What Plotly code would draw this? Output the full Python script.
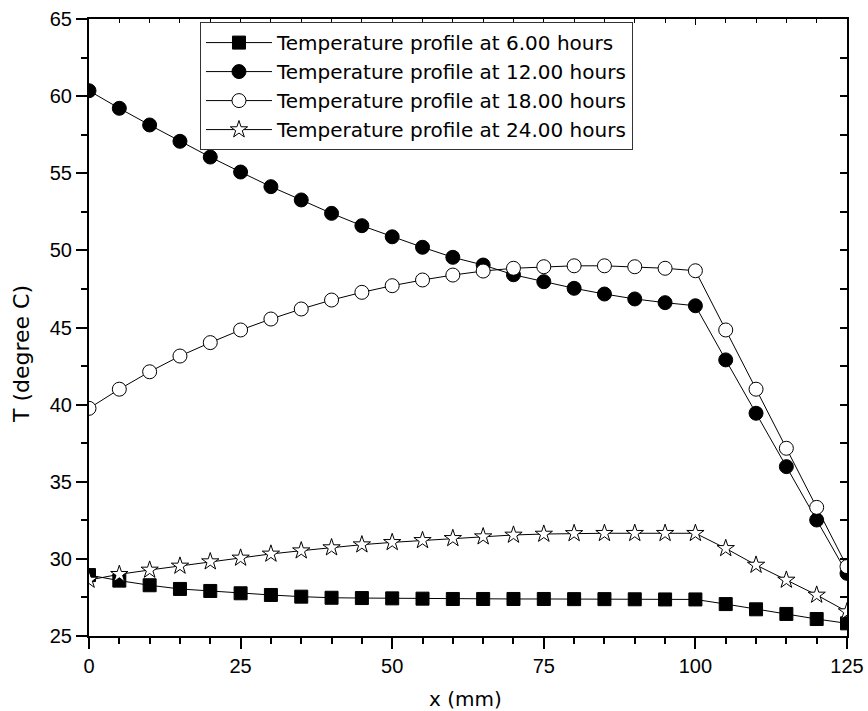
import plotly.graph_objects as go

x_mm = [0, 5, 10, 15, 20, 25, 30, 35, 40, 45, 50, 55, 60, 65, 70, 75, 80, 85, 90, 95, 100, 105, 110, 115, 120, 125]

t_6h = [28.95, 28.59, 28.29, 28.05, 27.92, 27.77, 27.66, 27.55, 27.48, 27.46, 27.44, 27.42, 27.4, 27.4, 27.4, 27.4, 27.39, 27.39, 27.38, 27.37, 27.37, 27.07, 26.73, 26.43, 26.1, 25.82]
t_12h = [60.35, 59.21, 58.13, 57.07, 56.05, 55.08, 54.13, 53.27, 52.4, 51.6, 50.88, 50.2, 49.55, 49.05, 48.42, 47.97, 47.54, 47.17, 46.85, 46.61, 46.41, 42.9, 39.44, 35.98, 32.52, 29.06]
t_18h = [39.76, 41.0, 42.13, 43.15, 44.02, 44.84, 45.55, 46.2, 46.78, 47.28, 47.71, 48.08, 48.4, 48.66, 48.84, 48.94, 49.0, 49.0, 48.94, 48.84, 48.68, 44.84, 41.0, 37.17, 33.34, 29.5]
t_24h = [28.63, 29.0, 29.28, 29.54, 29.82, 30.06, 30.32, 30.53, 30.73, 30.92, 31.07, 31.2, 31.33, 31.44, 31.55, 31.61, 31.65, 31.66, 31.66, 31.66, 31.66, 30.68, 29.6, 28.63, 27.66, 26.58]

series_names = [
    "Temperature profile at 6.00 hours",
    "Temperature profile at 12.00 hours",
    "Temperature profile at 18.00 hours",
    "Temperature profile at 24.00 hours",
]

x_ticks = [0, 25, 50, 75, 100, 125]
y_ticks = [25, 30, 35, 40, 45, 50, 55, 60, 65]

x_title = "x (mm)"
y_title = "T (degree C)"

FONT = "Liberation Sans, Arial, Helvetica, sans-serif"
WIDE = "DejaVu Sans, Liberation Sans, sans-serif"

styles = [
    dict(symbol="square", size=13, color="black", line=dict(color="black", width=1)),
    dict(symbol="circle", size=14, color="black", line=dict(color="black", width=1)),
    dict(symbol="circle", size=14, color="white", line=dict(color="black", width=1)),
    dict(symbol="star", size=13, color="white", line=dict(color="black", width=1)),
]

fig = go.Figure()
for name, ys, st in zip(series_names, [t_6h, t_12h, t_18h, t_24h], styles):
    fig.add_trace(go.Scatter(
        x=x_mm, y=ys, name=name, mode="lines+markers",
        line=dict(color="black", width=1),
        marker=st,
    ))

# invisible trace to activate mirrored (top/right) axes
fig.add_trace(go.Scatter(x=[x_mm[0]], y=[t_6h[0]], xaxis="x2", yaxis="y2",
                         mode="markers", marker=dict(opacity=0), showlegend=False,
                         hoverinfo="skip"))

fig.update_layout(
    width=868, height=711,
    margin=dict(l=89, r=21, t=19, b=75, autoexpand=False),
    paper_bgcolor="white", plot_bgcolor="white",
    font=dict(family=FONT, color="black", size=20),
    showlegend=True,
    legend=dict(
        x=0.1464, y=0.995, xanchor="left", yanchor="top",
        bordercolor="#333", borderwidth=1, bgcolor="white",
        font=dict(family=WIDE, size=20, color="black"),
        itemwidth=66,
        tracegroupgap=0,
    ),
    xaxis=dict(
        range=[0, 125], tickvals=x_ticks, ticks="outside", ticklen=11, tickwidth=2,
        tickcolor="black", showline=True, linecolor="black", linewidth=2,
        showgrid=False, zeroline=False, automargin=False,
        minor=dict(dtick=5, ticks="outside", ticklen=6, tickwidth=1.5, tickcolor="black", showgrid=False),
        tickfont=dict(size=20),
    ),
    yaxis=dict(
        range=[25, 65], tickvals=y_ticks, ticks="outside", ticklen=11, tickwidth=2,
        tickcolor="black", showline=True, linecolor="black", linewidth=2,
        showgrid=False, zeroline=False, automargin=False,
        minor=dict(dtick=2.5, ticks="outside", ticklen=6, tickwidth=1.5, tickcolor="black", showgrid=False),
        tickfont=dict(size=20),
    ),
    xaxis2=dict(
        range=[0, 125], overlaying="x", side="top", showticklabels=False,
        tickvals=x_ticks, ticks="inside", ticklen=6, tickwidth=1, tickcolor="black",
        showline=True, linecolor="black", linewidth=2, showgrid=False, zeroline=False,
        minor=dict(dtick=5, ticks="inside", ticklen=4, tickwidth=1, tickcolor="black", showgrid=False),
    ),
    yaxis2=dict(
        range=[25, 65], overlaying="y", side="right", showticklabels=False,
        tickvals=y_ticks, ticks="inside", ticklen=7, tickwidth=1.5, tickcolor="black",
        showline=True, linecolor="black", linewidth=2, showgrid=False, zeroline=False,
        minor=dict(dtick=2.5, ticks="inside", ticklen=7, tickwidth=1.5, tickcolor="black", showgrid=False),
    ),
    annotations=[
        dict(text=x_title, xref="paper", yref="paper", x=0.497, y=-0.102,
             xanchor="center", yanchor="middle", showarrow=False,
             font=dict(family=WIDE, size=20, color="black")),
        dict(text=y_title, xref="paper", yref="paper", x=-0.0897, y=0.457,
             xanchor="center", yanchor="middle", showarrow=False, textangle=-90,
             font=dict(family=WIDE, size=22, color="black")),
    ],
)

fig.write_html("out.html")
